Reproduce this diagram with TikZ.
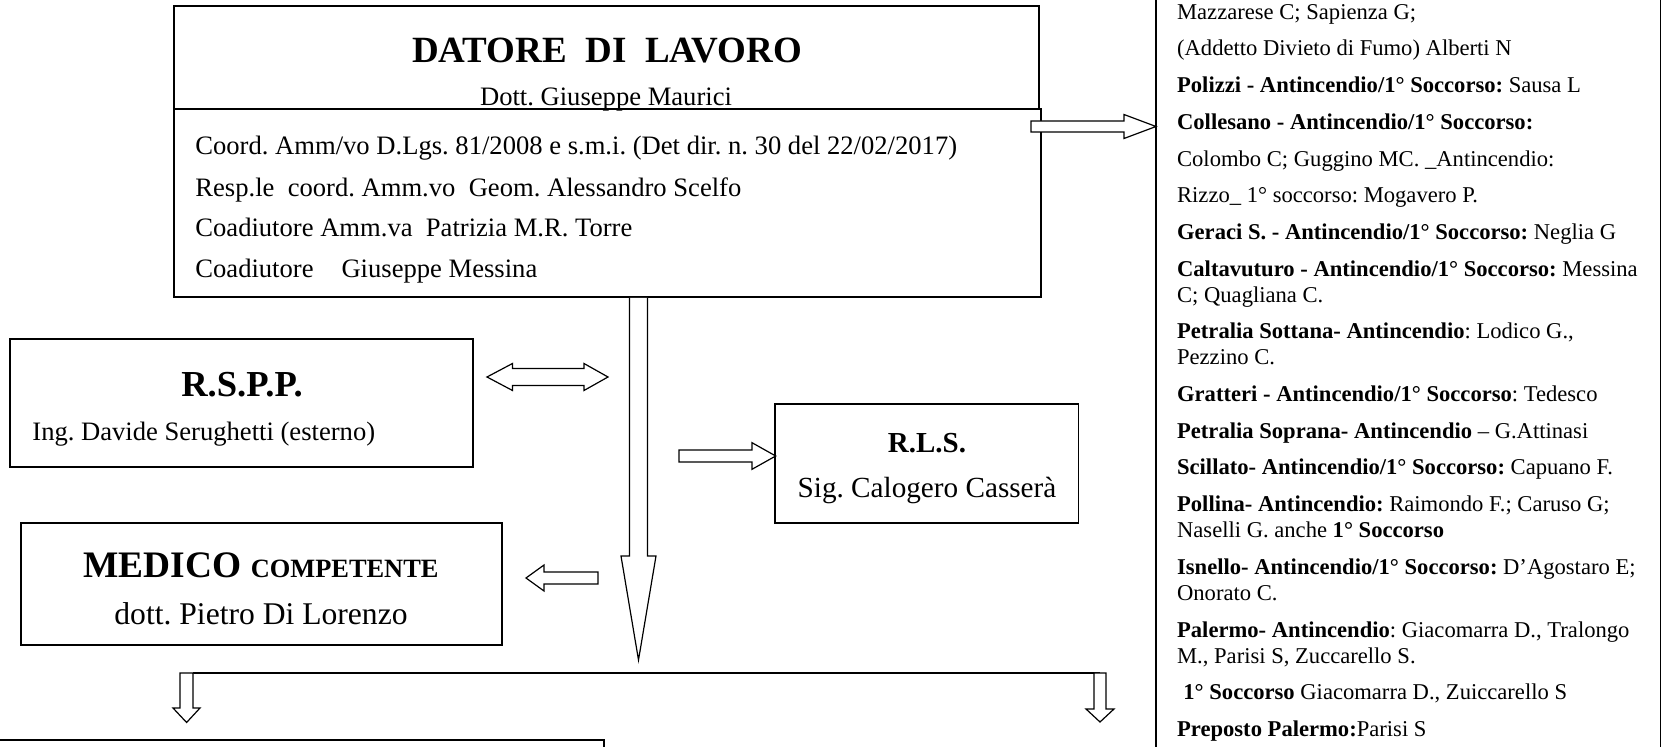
\documentclass[tikz,border=0pt]{standalone}
\usepackage{fontspec}
\setmainfont{Liberation Serif}
\usetikzlibrary{fit}
\frenchspacing
\tikzset{
  box/.style={draw, line width=0.8pt, inner sep=0pt},
  barrow/.style={draw, line width=0.6pt, fill=white, line join=miter},
  lbl/.style={inner sep=0pt, anchor=base},
  lbll/.style={inner sep=0pt, anchor=base west},
  body/.style={font=\fontsize{13.3}{16}\selectfont},
  listtxt/.style={lbll, font=\fontsize{11.3}{13}\selectfont},
}
\begin{document}
\begin{tikzpicture}[x=0.5pt,y=-0.5pt]
\useasboundingbox (0,0) rectangle (1672,747);
\clip (0,0) rectangle (1672,747);
\fill[white] (0,0) rectangle (1672,747);

% ---------- DATORE DI LAVORO ----------
\node[box, fit={(174,6) (1039,109)}] (datoreTop) {};
\node[box, fit={(174,109) (1041,297)}] (datoreBot) {};
\node[lbl, font=\fontsize{18.5}{22}\selectfont\bfseries] (titolo) at (607,63) {DATORE\ \ DI\ \ LAVORO};
\node[lbl, body] (dott) at (606,106) {Dott. Giuseppe Maurici};
\node[lbll, body] (d1) at (195,155) {Coord. Amm/vo D.Lgs. 81/2008 e s.m.i. (Det dir. n. 30 del 22/02/2017)};
\node[lbll, body] (d2) at (195,197) {Resp.le\ \ coord. Amm.vo\ \ Geom. Alessandro Scelfo};
\node[lbll, body] (d3) at (195,237) {Coadiutore Amm.va\ \ Patrizia M.R. Torre};
\node[lbll, body] (d4) at (195,278) {Coadiutore\hspace{1.05em}Giuseppe Messina};

% ---------- R.S.P.P. ----------
\node[box, fit={(10,339) (473,467)}] (rspp) {};
\node[lbl, font=\fontsize{18.3}{22}\selectfont\bfseries] (rsppT) at (242,397) {R.S.P.P.};
\node[lbll, body] (rsppN) at (32,441) {Ing. Davide Serughetti (esterno)};

% ---------- MEDICO ----------
\node[box, fit={(21,523) (502,645)}] (medico) {};
\node[lbl, font=\bfseries] (medicoT) at (261,578) {\fontsize{18.7}{22}\selectfont MEDICO \fontsize{13.2}{16}\selectfont COMPETENTE};
\node[lbl, font=\fontsize{15.8}{19}\selectfont] (medicoN) at (261,625) {dott. Pietro Di Lorenzo};

% ---------- R.L.S. ----------
\node[box, fit={(775,404) (1078.6,523)}] (rls) {};
\node[lbl, font=\fontsize{14.5}{18}\selectfont\bfseries] (rlsT) at (927,453) {R.L.S.};
\node[lbl, font=\fontsize{14.6}{18}\selectfont] (rlsN) at (927,498) {Sig. Calogero Casserà};

% ---------- bottom-left box ----------
\node[box, fit={(-10,740) (604,800)}] (bottomBox) {};

% ---------- right list ----------
\node[box, fit={(1156,-10) (1660.6,800)}] (listBox) {};
\node[listtxt] (r1) at (1176.7,19.3) {Mazzarese C; Sapienza G;};
\node[listtxt] (r2) at (1176.7,56) {(Addetto Divieto di Fumo) Alberti N};
\node[listtxt] (r3) at (1176.7,92.7) {\textbf{Polizzi - Antincendio/1° Soccorso:} Sausa L};
\node[listtxt] (r4) at (1176.7,129.4) {\textbf{Collesano - Antincendio/1° Soccorso:}};
\node[listtxt] (r5) at (1176.7,166.1) {Colombo C; Guggino MC. \_Antincendio:};
\node[listtxt] (r6) at (1176.7,202.8) {Rizzo\_ 1° soccorso: Mogavero P.};
\node[listtxt] (r7) at (1176.7,239.5) {\textbf{Geraci S. - Antincendio/1° Soccorso:} Neglia G};
\node[listtxt] (r8) at (1176.7,276.2) {\textbf{Caltavuturo - Antincendio/1° Soccorso:} Messina};
\node[listtxt] (r9) at (1176.7,302.2) {C; Quagliana C.};
\node[listtxt] (r10) at (1176.7,338.9) {\textbf{Petralia Sottana- Antincendio}: Lodico G.,};
\node[listtxt] (r11) at (1176.7,364.9) {Pezzino C.};
\node[listtxt] (r12) at (1176.7,401.6) {\textbf{Gratteri - Antincendio/1° Soccorso}: Tedesco};
\node[listtxt] (r13) at (1176.7,438.3) {\textbf{Petralia Soprana- Antincendio} – G.Attinasi};
\node[listtxt] (r14) at (1176.7,475) {\textbf{Scillato- Antincendio/1° Soccorso:} Capuano F.};
\node[listtxt] (r15) at (1176.7,511.7) {\textbf{Pollina- Antincendio:} Raimondo F.; Caruso G;};
\node[listtxt] (r16) at (1176.7,537.7) {Naselli G. anche \textbf{1° Soccorso}};
\node[listtxt] (r17) at (1176.7,574.4) {\textbf{Isnello- Antincendio/1° Soccorso:} D’Agostaro E;};
\node[listtxt] (r18) at (1176.7,600.4) {Onorato C.};
\node[listtxt] (r19) at (1176.7,637.1) {\textbf{Palermo- Antincendio}: Giacomarra D., Tralongo};
\node[listtxt] (r20) at (1176.7,663.1) {M., Parisi S, Zuccarello S.};
\node[listtxt] (r21) at (1183,699.8) {\textbf{1° Soccorso} Giacomarra D., Zuiccarello S};
\node[listtxt] (r22) at (1176.7,736.5) {\textbf{Preposto Palermo:}Parisi S};

% ---------- block arrows ----------
% main downward arrow
\draw[barrow] (629.5,298) -- (629.5,556) -- (621,556) -- (638.5,660) -- (656,556) -- (647.5,556) -- (647.5,298);
% datore -> list
\draw[barrow] (1031,121) -- (1124,121) -- (1124,114.5) -- (1156,126.5) -- (1124,138.5) -- (1124,132) -- (1031,132) -- cycle;
% RSPP <-> main
\draw[barrow] (487,377) -- (512.5,363.5) -- (512.5,368.5) -- (584,368.5) -- (584,363.5) -- (608,377) -- (584,390.5) -- (584,385.5) -- (512.5,385.5) -- (512.5,390.5) -- cycle;
% -> RLS
\draw[barrow] (679,450) -- (752,450) -- (752,442.7) -- (775.7,456) -- (752,469.3) -- (752,462) -- (679,462) -- cycle;
% -> MEDICO
\draw[barrow] (598,572) -- (544,572) -- (544,565) -- (526,578) -- (544,591) -- (544,584) -- (598,584) -- cycle;
% horizontal distribution line
\coordinate (hl) at (193,673);
\coordinate (hr) at (1100,673);
\draw[line width=0.8pt] (hl) -- (hr);
% small down arrows
\draw[barrow] (180,673) -- (180,708) -- (173,708) -- (186.6,722.5) -- (200,708) -- (193,708) -- (193,673) -- cycle;
\draw[barrow] (1094,673) -- (1094,709) -- (1086,709) -- (1100,722) -- (1114,709) -- (1106,709) -- (1106,673) -- cycle;
\end{tikzpicture}
\end{document}
